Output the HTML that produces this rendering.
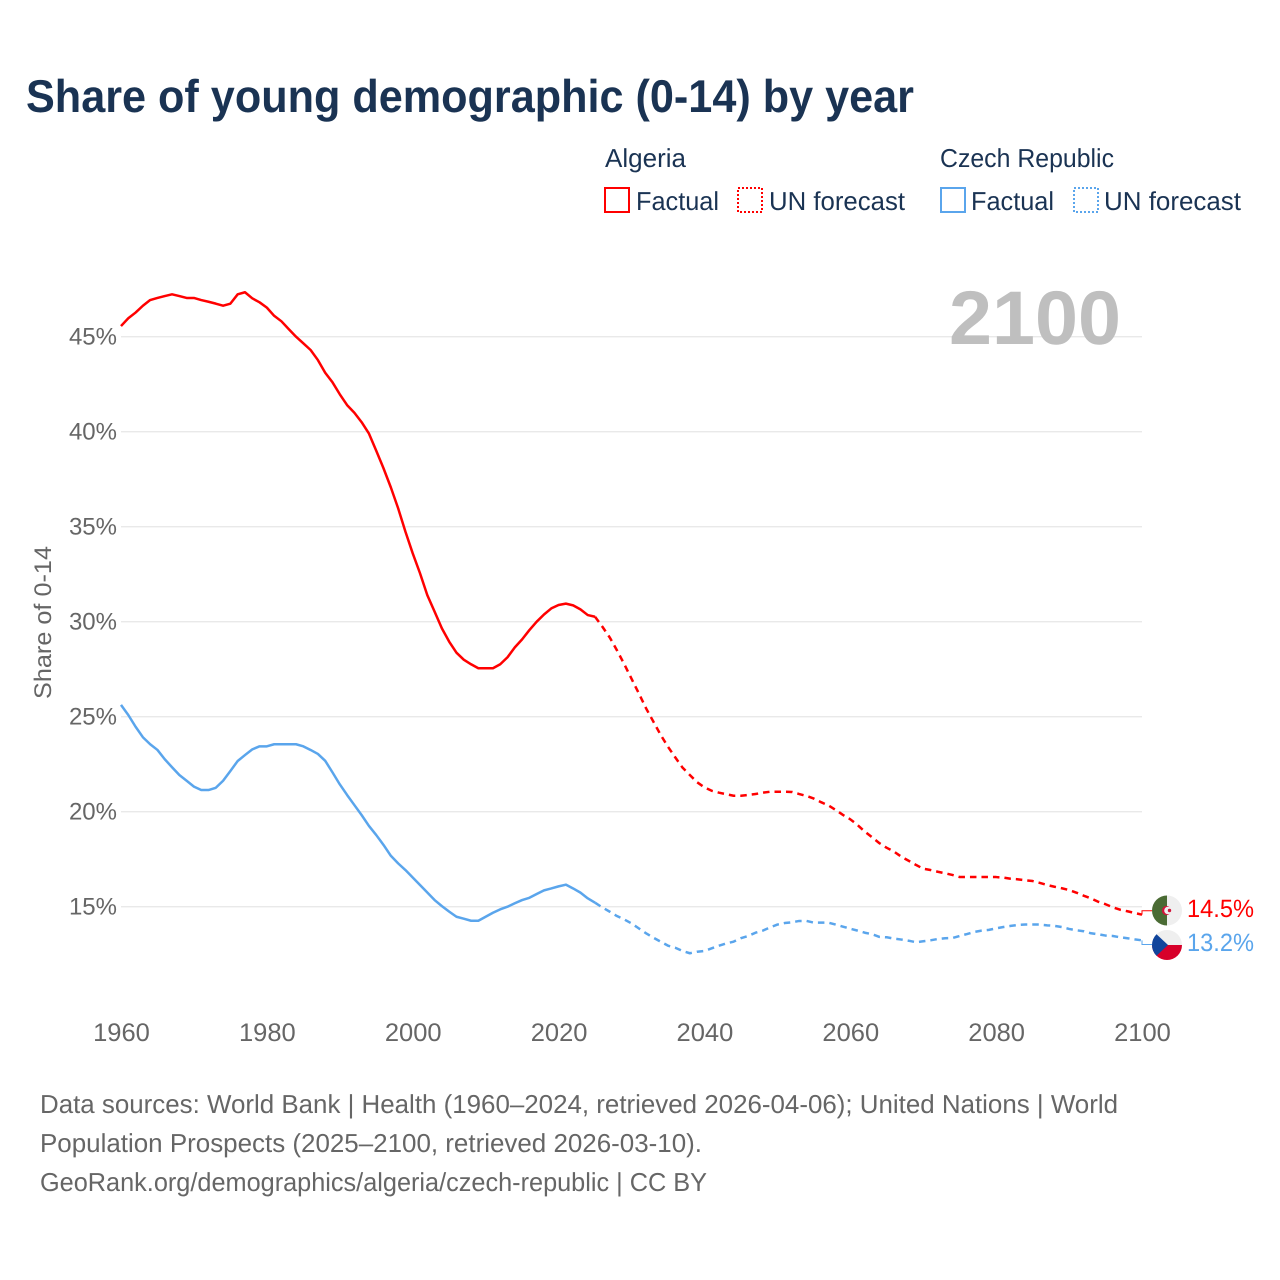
<!DOCTYPE html>
<html lang="en">
<head>
<meta charset="utf-8">
<title>Share of young demographic (0-14) by year</title>
<style>
html,body{margin:0;padding:0;background:#fff;width:1280px;height:1280px;overflow:hidden}
svg{display:block}
text{font-family:"Liberation Sans",sans-serif;text-rendering:geometricPrecision}
</style>
</head>
<body>
<svg id="chart" width="1280" height="1280" viewBox="0 0 1280 1280" xmlns="http://www.w3.org/2000/svg">
  <defs>
    <clipPath id="clip-dz"><circle cx="1167" cy="910.5" r="15"/></clipPath>
    <clipPath id="clip-cz"><circle cx="1167" cy="945" r="15"/></clipPath>
  </defs>
  <rect x="0" y="0" width="1280" height="1280" fill="#fff"/>
  <text x="26" y="112" font-size="46" font-weight="700" fill="#1a3353" textLength="888" lengthAdjust="spacingAndGlyphs">Share of young demographic (0-14) by year</text>

  <g font-size="26" fill="#1a3353">
    <text x="605" y="167" textLength="81" lengthAdjust="spacingAndGlyphs">Algeria</text>
    <text x="940" y="167" textLength="174" lengthAdjust="spacingAndGlyphs">Czech Republic</text>
    <rect x="605" y="188" width="24" height="24" fill="none" stroke="#ff0000" stroke-width="2"/>
    <text x="636" y="210" textLength="83" lengthAdjust="spacingAndGlyphs">Factual</text>
    <rect x="738" y="188" width="24" height="24" fill="none" stroke="#ff0000" stroke-width="2" stroke-dasharray="2 2"/>
    <text x="769" y="210" textLength="136" lengthAdjust="spacingAndGlyphs">UN forecast</text>
    <rect x="941" y="188" width="24" height="24" fill="none" stroke="#5aa5ec" stroke-width="2"/>
    <text x="971" y="210" textLength="83" lengthAdjust="spacingAndGlyphs">Factual</text>
    <rect x="1074" y="188" width="24" height="24" fill="none" stroke="#5aa5ec" stroke-width="2" stroke-dasharray="2 2"/>
    <text x="1104" y="210" textLength="137" lengthAdjust="spacingAndGlyphs">UN forecast</text>
  </g>

  <g id="grid"></g>
  <text x="949" y="344" font-size="76" font-weight="700" fill="#bfbfbf" textLength="172" lengthAdjust="spacingAndGlyphs">2100</text>
  <g id="yticks" font-size="24" fill="#666666"></g>
  <g id="xticks" font-size="24" fill="#666666"></g>
  <text transform="translate(51,699) rotate(-90)" x="0" y="0" font-size="24" fill="#666666" textLength="153" lengthAdjust="spacingAndGlyphs">Share of 0-14</text>

  <g id="series"></g>

  <g clip-path="url(#clip-dz)">
    <rect x="1152" y="895" width="15" height="31" fill="#4a6b34"/>
    <rect x="1167" y="895" width="15" height="31" fill="#efefef"/>
    <circle cx="1166.5" cy="910.5" r="4.6" fill="#d2143a"/>
    <circle cx="1168" cy="910.5" r="3.8" fill="#efefef"/>
    <circle cx="1169.5" cy="910.5" r="1.7" fill="#d2143a"/>
  </g>
  <g clip-path="url(#clip-cz)">
    <rect x="1152" y="930" width="30" height="15" fill="#efefef"/>
    <rect x="1152" y="945" width="30" height="15" fill="#d7002a"/>
    <polygon points="1152,930 1168,945 1152,960" fill="#11459c"/>
  </g>
  <text id="end-dz" x="1187" y="917" font-size="25" fill="#ff0000" textLength="67" lengthAdjust="spacingAndGlyphs"></text>
  <text id="end-cz" x="1187" y="951" font-size="25" fill="#5aa5ec" textLength="67" lengthAdjust="spacingAndGlyphs"></text>

  <g font-size="26" fill="#666666">
    <text x="40" y="1113" textLength="1078" lengthAdjust="spacingAndGlyphs">Data sources: World Bank | Health (1960–2024, retrieved 2026-04-06); United Nations | World</text>
    <text x="40" y="1152" textLength="662" lengthAdjust="spacingAndGlyphs">Population Prospects (2025–2100, retrieved 2026-03-10).</text>
    <text x="40" y="1191" textLength="667" lengthAdjust="spacingAndGlyphs">GeoRank.org/demographics/algeria/czech-republic | CC BY</text>
  </g>
</svg>
<script>
var factualStartYear = 1960;
var forecastStartYear = 2025;
var xTickYears = [1960, 1980, 2000, 2020, 2040, 2060, 2080, 2100];
var yTickValues = [15, 20, 25, 30, 35, 40, 45];
var endLabels = ['14.5%', '13.2%'];

var algeriaFactual = [45.56,45.97,46.27,46.63,46.93,47.04,47.14,47.23,47.14,47.04,47.04,46.93,46.84,46.74,46.63,46.74,47.23,47.34,47.02,46.81,46.53,46.1,45.81,45.4,45.0,44.65,44.3,43.77,43.1,42.6,41.97,41.4,41.0,40.5,39.9,39.0,38.07,37.07,35.97,34.74,33.6,32.55,31.4,30.53,29.65,28.95,28.37,28.0,27.76,27.55,27.55,27.55,27.76,28.13,28.65,29.07,29.56,30.0,30.38,30.7,30.88,30.95,30.86,30.65,30.35,30.26];
var algeriaForecast = [30.26,29.74,29.18,28.5,27.77,27.0,26.23,25.44,24.74,24.04,23.42,22.86,22.32,21.93,21.55,21.28,21.1,21.0,20.92,20.84,20.84,20.88,20.93,21.0,21.05,21.05,21.05,21.04,20.93,20.83,20.69,20.5,20.33,20.09,19.83,19.6,19.3,18.95,18.65,18.34,18.1,17.9,17.63,17.42,17.2,17.0,16.93,16.84,16.76,16.67,16.56,16.56,16.56,16.56,16.56,16.56,16.53,16.47,16.44,16.39,16.35,16.25,16.14,16.05,15.97,15.88,15.74,15.58,15.44,15.26,15.13,14.97,14.84,14.76,14.67,14.58];
var czechFactual = [25.62,25.09,24.47,23.92,23.55,23.25,22.76,22.34,21.93,21.63,21.32,21.14,21.14,21.26,21.63,22.14,22.67,22.98,23.28,23.44,23.44,23.55,23.55,23.55,23.55,23.44,23.25,23.04,22.68,22.07,21.44,20.88,20.35,19.82,19.25,18.77,18.25,17.68,17.28,16.93,16.54,16.14,15.75,15.35,15.03,14.74,14.47,14.37,14.26,14.26,14.47,14.68,14.86,15.0,15.18,15.35,15.47,15.67,15.86,15.96,16.07,16.16,15.96,15.74,15.44,15.21];
var czechForecast = [15.21,14.96,14.74,14.51,14.33,14.12,13.86,13.6,13.37,13.16,12.95,12.84,12.67,12.55,12.63,12.67,12.81,12.95,13.07,13.16,13.34,13.46,13.63,13.74,13.91,14.06,14.14,14.18,14.25,14.25,14.16,14.16,14.16,14.06,13.95,13.84,13.74,13.63,13.55,13.41,13.39,13.32,13.27,13.21,13.13,13.18,13.23,13.3,13.34,13.35,13.46,13.56,13.67,13.74,13.78,13.86,13.93,13.99,14.04,14.06,14.06,14.06,14.02,13.99,13.93,13.83,13.76,13.71,13.6,13.55,13.48,13.46,13.39,13.34,13.28,13.23];

var NS = 'http://www.w3.org/2000/svg';
function xScale(year) { return 121 + (year - 1960) * (1021 / 140); }
function yScale(value) { return 906.7 - (value - 15) * 19; }
function make(tag, parent) {
  var el = document.createElementNS(NS, tag);
  parent.appendChild(el);
  return el;
}
function linePath(values, startYear) {
  return values.map(function (v, i) {
    return (i ? 'L' : 'M') + xScale(startYear + i).toFixed(2) + ' ' + yScale(v).toFixed(2);
  }).join(' ');
}

var grid = document.getElementById('grid');
var yticks = document.getElementById('yticks');
var xticks = document.getElementById('xticks');
var series = document.getElementById('series');

yTickValues.forEach(function (v) {
  var line = make('line', grid);
  
  
  line.setAttribute('x1', 121);
  line.setAttribute('x2', 1142);
  line.setAttribute('y1', yScale(v));
  line.setAttribute('y2', yScale(v));
  line.setAttribute('stroke', '#e9e9e9');
  line.setAttribute('stroke-width', '1.3');
  var t = make('text', yticks);
  
  
  t.setAttribute('x', 117);
  t.setAttribute('y', yScale(v) + 8);
  t.setAttribute('text-anchor', 'end');
  t.textContent = v + '%';
});

xTickYears.forEach(function (yr) {
  var t = make('text', xticks);
  
  
  t.setAttribute('x', xScale(yr) + 0.5);
  t.setAttribute('y', 1041);
  t.setAttribute('text-anchor', 'middle');
  t.setAttribute('font-size', '25.5');
  t.textContent = yr;
});

function addLine(name, values, startYear, color, dashed) {
  var p = make('path', series);
  
  
  p.setAttribute('d', linePath(values, startYear));
  p.setAttribute('fill', 'none');
  p.setAttribute('stroke', color);
  p.setAttribute('stroke-width', '2.5');
  p.setAttribute('stroke-linejoin', 'round');
  if (dashed) { p.setAttribute('stroke-dasharray', '6.5 5'); }
}
addLine('line-algeria-factual', algeriaFactual, factualStartYear, '#ff0000', false);
addLine('line-algeria-forecast', algeriaForecast, forecastStartYear, '#ff0000', true);
addLine('line-czech-factual', czechFactual, factualStartYear, '#5aa5ec', false);
addLine('line-czech-forecast', czechForecast, forecastStartYear, '#5aa5ec', true);

function addConnector(name, values, labelY, color) {
  var endY = yScale(values[values.length - 1]);
  var c = make('path', series);
  
  
  c.setAttribute('d', 'M' + xScale(2100) + ' ' + endY + ' V' + labelY + ' H1152');
  c.setAttribute('fill', 'none');
  c.setAttribute('stroke', color);
  c.setAttribute('stroke-width', '1');
}
addConnector('connector-algeria', algeriaForecast, 910.7, '#ff0000');
addConnector('connector-czech-republic', czechForecast, 944.5, '#5aa5ec');

document.getElementById('end-dz').textContent = endLabels[0];
document.getElementById('end-cz').textContent = endLabels[1];
</script>
</body>
</html>
